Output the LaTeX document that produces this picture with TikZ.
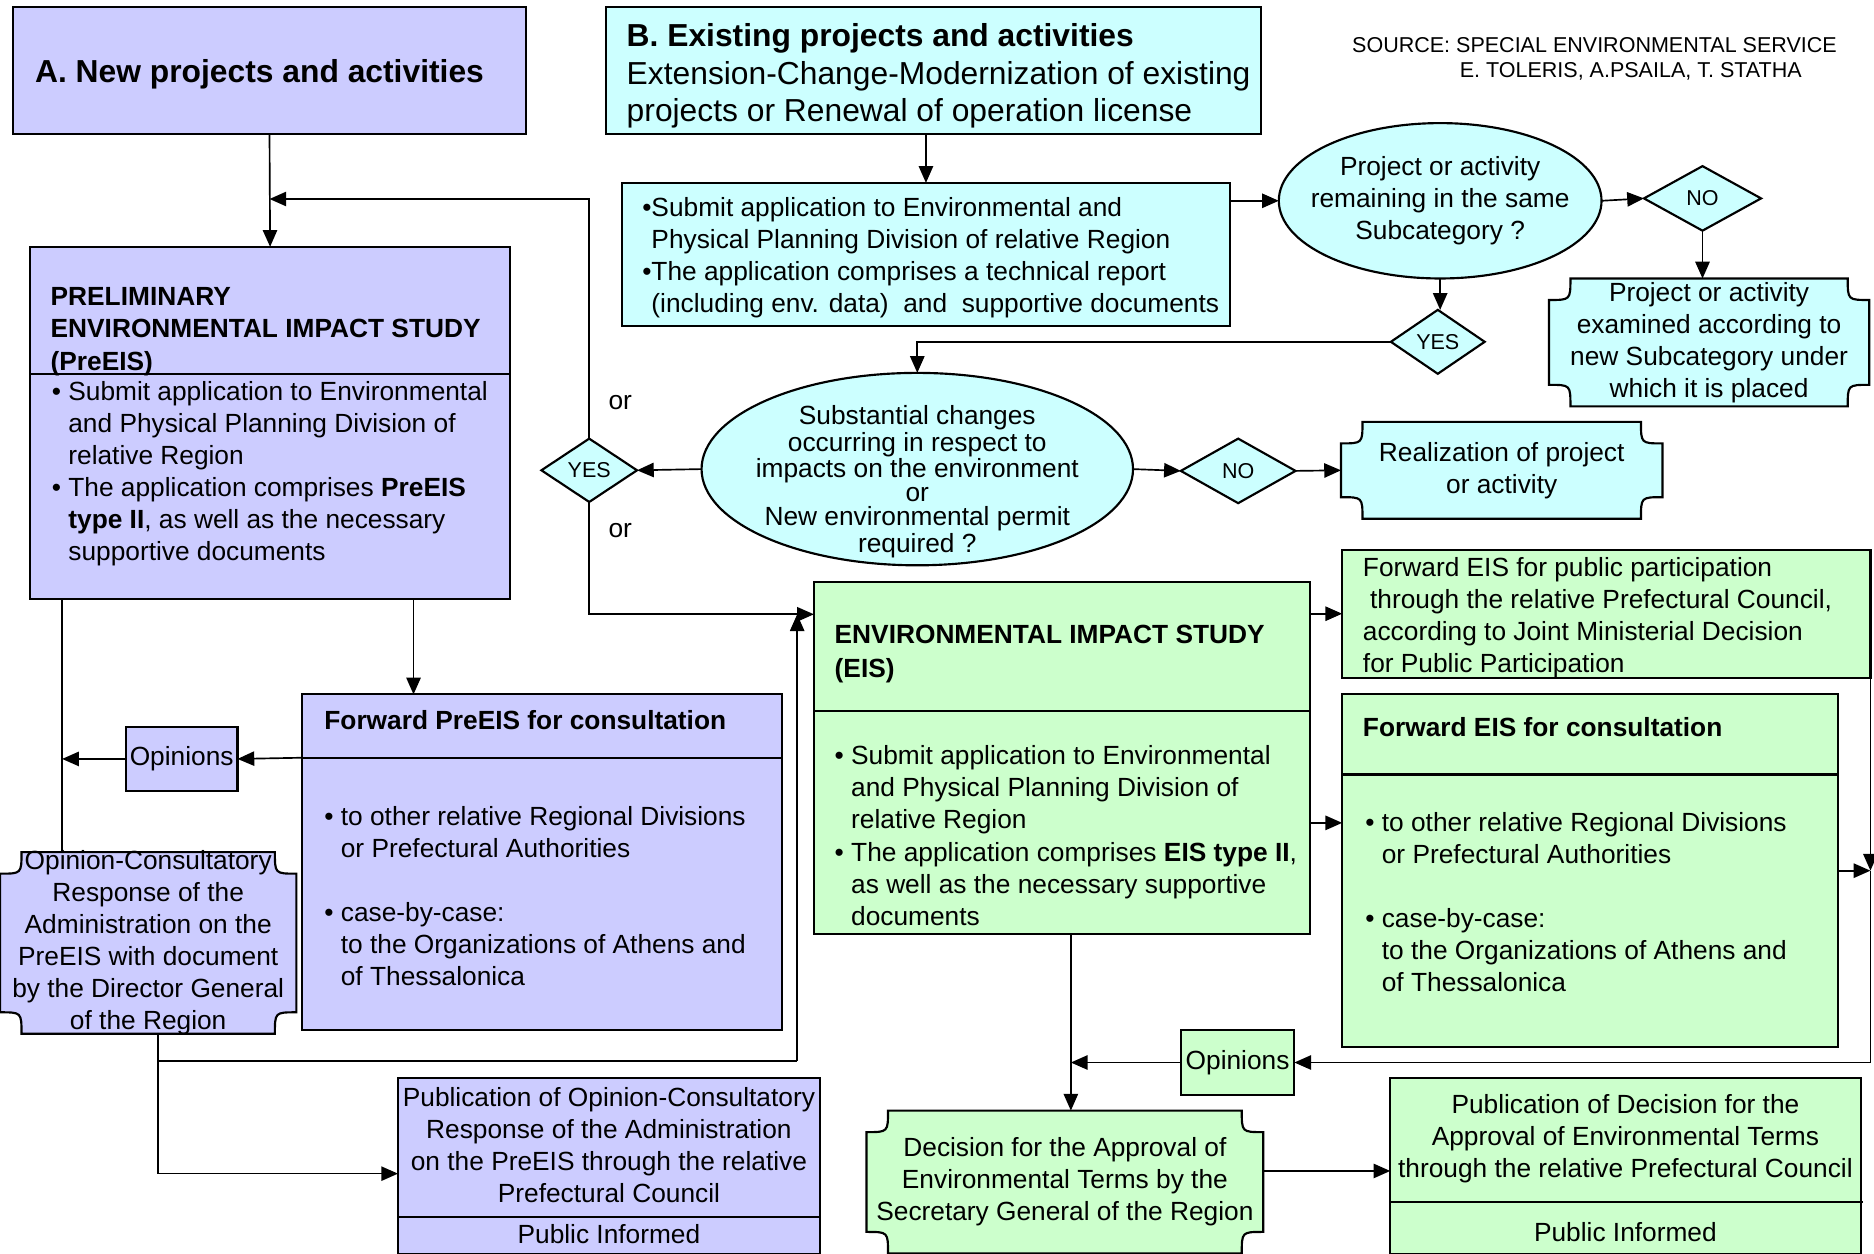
\documentclass[tikz,border=0pt]{standalone}
\usepackage{fontspec}
\setmainfont{Liberation Sans}
\usetikzlibrary{calc}
\usetikzlibrary{shapes.geometric}
\usetikzlibrary{arrows.meta}
\usetikzlibrary{backgrounds}

\definecolor{lav}{HTML}{CCCCFF}
\definecolor{aqua}{HTML}{CCFFFF}
\definecolor{mint}{HTML}{CCFFCC}

% plaque = box with hollow corners
\newcommand{\plqr}{18}
\newcommand{\plaque}[2]{%
  \filldraw[fill=#2, line width=0.9pt]
    ($(#1.north west)+(\plqr,0)$) -- ($(#1.north east)+(-\plqr,0)$)
    .. controls ($(#1.north east)+(-\plqr,\plqr)$) .. ($(#1.north east)+(0,\plqr)$)
    -- ($(#1.south east)+(0,-\plqr)$)
    .. controls ($(#1.south east)+(-\plqr,-\plqr)$) .. ($(#1.south east)+(-\plqr,0)$)
    -- ($(#1.south west)+(\plqr,0)$)
    .. controls ($(#1.south west)+(\plqr,-\plqr)$) .. ($(#1.south west)+(0,-\plqr)$)
    -- ($(#1.north west)+(0,\plqr)$)
    .. controls ($(#1.north west)+(\plqr,\plqr)$) .. ($(#1.north west)+(\plqr,0)$)
    -- cycle;}

\tikzset{
  box/.style={draw, line width=0.9pt, inner sep=0pt, outer sep=0pt},
  flat/.style={inner sep=0pt, outer sep=0pt, align=center, font=\fontsize{11}{13.4}\selectfont},
  txt/.style={inner sep=0pt, anchor=base west, align=left, font=\fontsize{11}{13.4}\selectfont},
  hd/.style={inner sep=0pt, anchor=base west, align=left, font=\fontsize{11}{13.4}\selectfont\bfseries},
  ctr/.style={inner sep=0pt, anchor=base, align=center, font=\fontsize{11}{13.4}\selectfont},
  choice/.style={diamond, draw, fill=aqua, line width=0.9pt, inner sep=0pt, outer sep=0pt, font=\fontsize{9}{10}\selectfont},
  oval/.style={ellipse, draw, fill=aqua, line width=0.9pt, inner sep=-12pt, outer sep=0pt, align=center, font=\fontsize{11}{13.4}\selectfont},
  link/.style={line width=0.7pt, -{Triangle[length=7pt,width=6pt]}},
  wire/.style={line width=0.7pt}
}

\begin{document}
\begin{tikzpicture}[x=0.5pt,y=-0.5pt]
    \useasboundingbox (0,0) rectangle (1568,1049);

    %top row (text nodes sit on the baseline of their last line)
    \node[box, fill=lav, minimum width=214.5pt, minimum height=53pt] (newp) at (225.5,59) {};
    \node[hd, font=\fontsize{13.3}{15.75}\selectfont\bfseries] (newp-t) at (29,69) {A. New projects and activities};
    \node[box, fill=aqua, minimum width=274.25pt, minimum height=53pt] (exist) at (781,59) {};
    \node[txt, font=\fontsize{13.3}{15.75}\selectfont] (exist-t) at (524,102) {\textbf{B. Existing projects and activities}\\Extension-Change-Modernization of existing\\projects or Renewal of operation license};
    \node[txt, font=\fontsize{9}{10.5}\selectfont] (src) at (1131,65) {SOURCE: SPECIAL ENVIRONMENTAL SERVICE\\\hspace*{45pt}E. TOLERIS, A.PSAILA, T. STATHA};

    %existing projects branch
    \node[box, fill=aqua, minimum width=254.25pt, minimum height=59.75pt] (submit) at (774.75,212.75) {};
    \node[txt] (submit-t) at (537,261.4) {•Submit application to Environmental and\\\phantom{•}Physical Planning Division of relative Region\\•The application comprises a technical report\\\phantom{•}(including env. data)~ and~ supportive documents};
    \node[oval, minimum width=135pt, minimum height=65pt] (same) at (1205,168) {Project or activity\\remaining in the same\\Subcategory ?};
    \node[choice, minimum width=49pt, minimum height=27pt] (no1) at (1424.5,166) {NO};
    \node[flat, minimum width=134pt, minimum height=53.5pt] (exam) at (1430,286.5) {Project or activity\\examined according to\\new Subcategory under\\which it is placed};
    \node[choice, minimum width=39.25pt, minimum height=26.75pt] (yes1) at (1203,286) {YES};
    \node[oval, minimum width=180.5pt, minimum height=80.5pt] (subst) at (767.5,392.5) {};
    \node[flat, font=\fontsize{11}{10}\selectfont] (subst-t) at (767.5,403) {Substantial changes\\occurring in respect to\\impacts on the environment\\or\\New environmental permit\\required ?};
    \node[choice, minimum width=40pt, minimum height=26.5pt] (yes2) at (493,393.5) {YES};
    \node[choice, minimum width=48pt, minimum height=27pt] (no2) at (1036,394) {NO};
    \node[flat, minimum width=134.5pt, minimum height=40.5pt] (real) at (1256.5,393.5) {Realization of project\\or activity};
    \node[txt, anchor=center] (or1) at (519,337) {or};
    \node[txt, anchor=center] (or2) at (519,443.5) {or};

    %preliminary study
    \node[box, fill=lav, minimum width=201pt, minimum height=147.25pt] (preeis) at (226,353.75) {};
    \draw[line width=0.9pt] ($(preeis.north west)+(0,106.5)$) -- ($(preeis.north east)+(0,106.5)$);
    \node[hd] (preeis-h) at (42,309.6) {PRELIMINARY\\ENVIRONMENTAL IMPACT STUDY\\(PreEIS)};
    \node[txt] (preeis-b) at (43,469) {• Submit application to Environmental\\\phantom{• }and Physical Planning Division of\\\phantom{• }relative Region\\• The application comprises \textbf{PreEIS}\\\phantom{• }\textbf{type II}, as well as the necessary\\\phantom{• }supportive documents};
    \node[box, fill=lav, minimum width=201pt, minimum height=140.5pt] (fwdpre) at (453.5,721.5) {};
    \draw[line width=0.9pt] ($(fwdpre.north west)+(0,53)$) -- ($(fwdpre.north east)+(0,53)$);
    \node[hd] (fwdpre-h) at (271,610) {Forward PreEIS for consultation};
    \node[txt] (fwdpre-b) at (271,824.5) {• to other relative Regional Divisions\\\phantom{• }or Prefectural Authorities\\[13.4pt]• case-by-case:\\\phantom{• }to the Organizations of Athens and\\\phantom{• }of Thessalonica};
    \node[box, fill=lav, minimum width=46.75pt, minimum height=27pt, font=\fontsize{11}{13.4}\selectfont] (opin1) at (152,635) {Opinions};
    \node[flat, minimum width=124pt, minimum height=76pt, inner ysep=-3pt] (opcons) at (124,789) {Opinion-Consultatory\\Response of the\\Administration on the\\PreEIS with document\\by the Director General\\of the Region};
    \node[box, fill=lav, minimum width=176.5pt, minimum height=73.5pt] (pub1) at (509.5,975.5) {};
    \draw[line width=0.9pt] ($(pub1.north west)+(0,116)$) -- ($(pub1.north east)+(0,116)$);
    \node[ctr] (pub1-t) at (509.5,1006.4) {Publication of Opinion-Consultatory\\Response of the Administration\\on the PreEIS through the relative\\Prefectural Council};
    \node[ctr] (pub1-p) at (509.5,1040.5) {Public Informed};

    %environmental impact study
    \node[box, fill=mint, minimum width=207.5pt, minimum height=147.25pt] (eis) at (888.5,634.25) {};
    \draw[line width=0.9pt] ($(eis.north west)+(0,108)$) -- ($(eis.north east)+(0,108)$);
    \node[hd, font=\fontsize{11}{14}\selectfont\bfseries] (eis-h) at (698,566.5) {ENVIRONMENTAL IMPACT STUDY\\(EIS)};
    \node[txt] (eis-b) at (698,774) {• Submit application to Environmental\\\phantom{• }and Physical Planning Division of\\\phantom{• }relative Region\\• The application comprises \textbf{EIS type II},\\\phantom{• }as well as the necessary supportive\\\phantom{• }documents};
    \node[box, fill=mint, minimum width=221pt, minimum height=53.5pt] (pubpart) at (1344,513.5) {};
    \node[txt] (pubpart-t) at (1140,562.4) {Forward EIS for public participation\\\hspace*{3pt}through the relative Prefectural Council,\\according to Joint Ministerial Decision\\for Public Participation};
    \node[box, fill=mint, minimum width=207.5pt, minimum height=147.5pt] (consult) at (1330.5,728.5) {};
    \draw[line width=0.9pt] ($(consult.north west)+(0,67)$) -- ($(consult.north east)+(0,67)$);
    \node[hd] (consult-h) at (1140,616.5) {Forward EIS for consultation};
    \node[txt] (consult-b) at (1142,830) {• to other relative Regional Divisions\\\phantom{• }or Prefectural Authorities\\[13.4pt]• case-by-case:\\\phantom{• }to the Organizations of Athens and\\\phantom{• }of Thessalonica};
    \node[box, fill=mint, minimum width=47.5pt, minimum height=27pt, font=\fontsize{11}{13.4}\selectfont] (opin2) at (1035.5,889) {Opinions};
    \node[flat, minimum width=166pt, minimum height=59.75pt] (decis) at (891,989) {Decision for the Approval of\\Environmental Terms by the\\Secretary General of the Region};
    \node[box, fill=mint, minimum width=196.75pt, minimum height=73.5pt] (pub2) at (1360,975.5) {};
    \draw[line width=0.9pt] ($(pub2.north west)+(0,103.5)$) -- ($(pub2.north east)+(2,103.5)$);
    \node[ctr] (pub2-t) at (1360,985) {Publication of Decision for the\\Approval of Environmental Terms\\through the relative Prefectural Council};
    \node[ctr] (pub2-p) at (1360,1039) {Public Informed};

    %plaques
    \begin{pgfonlayer}{background}
    \plaque{exam}{aqua}
    \plaque{real}{aqua}
    \plaque{opcons}{lav}
    \plaque{decis}{mint}
    \end{pgfonlayer}

    %joints
    \coordinate (merge) at (225.5,166.5);
    \coordinate (eisin) at ($(eis.north west)+(0,27)$);
    \coordinate (back) at (667,888);
    \coordinate (ob) at ($(opcons.south)+(8,0)$);
    \coordinate (pl) at ($(preeis.south west)+(27,0)$);
    \coordinate (pq) at ($(preeis.south west)+(321,0)$);
    \coordinate (ec) at ($(eis.north east)+(0,201.5)$);
    \coordinate (rj) at (consult.east -| pubpart.east);
    \coordinate (ed) at ($(eis.south west)+(215,0)$);
    \coordinate (dc) at ($(decis.north east)+(0,50.5)$);

    %arrows
    \draw[link] (newp.south) -- (preeis.north);
    \draw[link] (submit.north |- exist.south) -- (submit.north);
    \draw[link] (submit.east |- same.west) -- (same.west);
    \draw[link] (same.east) -- (no1.west);
    \draw[link] (no1.south) -- (no1.south |- exam.north);
    \draw[link] (same.south) -- (same.south |- yes1.north);
    \draw[link] (yes1.west) -| (subst.north);
    \draw[link] (subst.west) -- (yes2.east);
    \draw[link] (yes2.north) |- (merge);
    \draw[link] (yes2.south) |- (eisin);
    \draw[link] (subst.east) -- (no2.west);
    \draw[link] (no2.east) -- (real.west);

    \draw[link] (pq) -- (pq |- fwdpre.north);
    \draw[wire] (pl) -- (pl |- opcons.north);
    \draw[link] ($(fwdpre.north west)+(0,53)$) -- (opin1.east);
    \draw[link] (opin1.west) -- (opin1.west -| pl);
    \draw[wire] (ob) |- (back);
    \draw[link] (back) -- (back |- eisin);
    \draw[link] (ob) |- ($(pub1.north west)+(0,80)$);

    \draw[link] (eis.east |- pubpart.west) -- (pubpart.west);
    \draw[link] (ec) -- (ec -| consult.west);
    \draw[link] (pubpart.south east) -- (rj);
    \draw[link] (consult.east) -- (rj);
    \draw[link] (rj) |- (opin2.east);
    \draw[link] (opin2.west) -- (opin2.west -| ed);
    \draw[link] (ed) -- (ed |- decis.north);
    \draw[link] (dc) -- (dc -| pub2.west);
\end{tikzpicture}
\end{document}
